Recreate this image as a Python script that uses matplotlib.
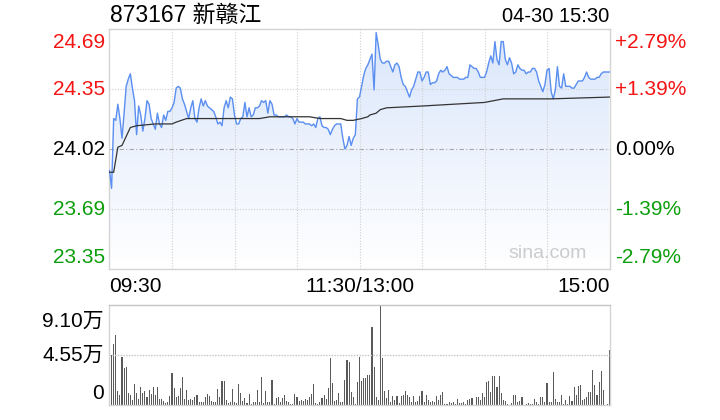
import numpy as np
import matplotlib.pyplot as plt
from matplotlib.colors import LinearSegmentedColormap

plt.rcParams['font.family'] = ['Liberation Sans', 'Noto Sans CJK SC']

TITLE = "873167 新赣江"
STAMP = "04-30 15:30"
PREV_CLOSE = 24.02

# price per minute, 09:30-11:30 (121 values) and 13:01-15:00 (120 values)
PRICE_AM = [
    23.90, 23.80, 24.19, 24.18, 24.27, 24.19, 24.08, 24.22, 24.37, 24.41,
    24.44, 24.36, 24.29, 24.10, 24.26, 24.21, 24.12, 24.19, 24.29, 24.27,
    24.19, 24.16, 24.13, 24.22, 24.16, 24.14, 24.21, 24.18, 24.23, 24.23,
    24.25, 24.28, 24.36, 24.37, 24.36, 24.30, 24.27, 24.23, 24.19, 24.25,
    24.29, 24.19, 24.17, 24.25, 24.30, 24.26, 24.29, 24.26, 24.25, 24.24,
    24.23, 24.20, 24.16, 24.17, 24.15, 24.25, 24.29, 24.25, 24.31, 24.30,
    24.21, 24.16, 24.16, 24.19, 24.20, 24.28, 24.20, 24.25, 24.20, 24.21,
    24.25, 24.25, 24.26, 24.29, 24.28, 24.29, 24.22, 24.29, 24.27, 24.21,
    24.21, 24.20, 24.20, 24.20, 24.20, 24.21, 24.20, 24.20, 24.19, 24.16,
    24.19, 24.17, 24.17, 24.17, 24.16, 24.16, 24.16, 24.15, 24.16, 24.14,
    24.19, 24.20, 24.15, 24.14, 24.14, 24.13, 24.10, 24.13, 24.15, 24.16,
    24.16, 24.16, 24.08, 24.02, 24.04, 24.09, 24.04, 24.08, 24.10, 24.30,
    24.31,
]
PRICE_PM = [
    24.37, 24.43, 24.47, 24.49, 24.52, 24.55, 24.35, 24.67, 24.60, 24.52,
    24.50, 24.50, 24.51, 24.51, 24.48, 24.45, 24.49, 24.50, 24.48, 24.42,
    24.38, 24.37, 24.34, 24.31, 24.35, 24.37, 24.41, 24.45, 24.45, 24.40,
    24.42, 24.45, 24.45, 24.38, 24.39, 24.39, 24.40, 24.44, 24.46, 24.45,
    24.46, 24.48, 24.44, 24.43, 24.42, 24.42, 24.42, 24.41, 24.41, 24.41,
    24.42, 24.42, 24.49, 24.48, 24.47, 24.47, 24.45, 24.42, 24.42, 24.42,
    24.45, 24.50, 24.54, 24.50, 24.62, 24.52, 24.49, 24.62, 24.62, 24.52,
    24.49, 24.53, 24.50, 24.44, 24.45, 24.49, 24.47, 24.46, 24.46, 24.44,
    24.45, 24.45, 24.47, 24.47, 24.45, 24.40, 24.37, 24.34, 24.38, 24.46,
    24.47, 24.34, 24.30, 24.35, 24.48, 24.37, 24.36, 24.44, 24.37, 24.37,
    24.37, 24.36, 24.36, 24.38, 24.40, 24.40, 24.40, 24.42, 24.45, 24.42,
    24.41, 24.41, 24.41, 24.42, 24.42, 24.44, 24.45, 24.45, 24.45, 24.45,
]

# average price line (minute index, price)
AVG_MIN = [0, 2, 4, 6, 8, 10, 13, 22, 30, 32, 37, 43, 60, 72, 77, 96, 101,
           111, 114, 117, 121, 124, 125, 128, 130, 133, 150, 180, 189, 212, 240]
AVG_PRICE = [23.89, 23.89, 24.03, 24.04, 24.09, 24.14, 24.15, 24.16, 24.16,
             24.17, 24.19, 24.19, 24.19, 24.19, 24.20, 24.20, 24.19, 24.19,
             24.18, 24.18, 24.19, 24.20, 24.21, 24.22, 24.24, 24.25, 24.26,
             24.28, 24.30, 24.30, 24.31]

# volume per minute, in 万 shares
VOL_AM = [
    0.73, 4.55, 5.55, 6.37, 1.27, 0.91, 4.37, 3.37, 3.46, 1.09,
    0.91, 0.46, 1.91, 1.09, 0.55, 1.64, 1.09, 1.27, 0.73, 1.37,
    1.00, 1.64, 0.91, 1.64, 0.55, 0.55, 0.36, 0.18, 0.27, 0.82,
    2.91, 1.55, 0.73, 0.82, 1.55, 2.55, 0.55, 1.37, 0.46, 0.55,
    0.46, 0.73, 0.91, 0.27, 0.27, 0.27, 0.73, 1.00, 0.82, 0.36,
    0.27, 0.27, 1.46, 0.73, 2.18, 2.18, 0.46, 0.18, 0.27, 1.46,
    0.27, 0.18, 1.91, 1.09, 0.36, 0.64, 0.18, 1.00, 0.09, 0.27,
    0.27, 1.37, 0.27, 2.55, 0.18, 1.27, 0.27, 0.27, 2.28, 0.09,
    0.64, 0.73, 0.27, 0.64, 0.91, 0.36, 0.27, 0.09, 0.09, 1.00,
    0.73, 0.36, 0.46, 0.36, 0.55, 0.46, 0.73, 1.00, 1.91, 0.18,
    0.09, 0.27, 0.64, 0.91, 0.55, 1.55, 4.28, 2.00, 0.36, 0.46,
    1.09, 0.27, 0.27, 2.28, 4.10, 3.91, 1.18, 0.73, 0.09, 2.09,
    4.37,
]
VOL_PM = [
    2.18, 2.46, 2.46, 2.73, 2.73, 7.10, 3.46, 0.73, 0.46, 9.10,
    4.28, 1.27, 0.64, 1.37, 0.27, 0.82, 0.46, 0.82, 0.18, 0.82,
    0.91, 1.27, 0.91, 0.73, 0.27, 0.82, 0.27, 0.36, 0.82, 1.27,
    0.27, 0.91, 0.46, 0.27, 0.36, 0.27, 0.82, 0.46, 0.91, 1.18,
    0.09, 0.09, 0.27, 0.18, 0.27, 0.09, 0.55, 0.18, 0.18, 0.27,
    0.09, 0.46, 0.55, 0.64, 0.02, 0.73, 0.73, 0.46, 1.09, 0.73,
    2.09, 2.18, 1.18, 2.64, 2.64, 1.64, 2.64, 1.09, 0.46, 0.36,
    0.09, 0.02, 0.18, 0.91, 0.91, 0.27, 0.36, 0.73, 0.02, 0.09,
    0.18, 0.09, 0.09, 0.55, 0.27, 0.09, 0.73, 0.73, 0.27, 2.00,
    0.27, 0.27, 3.00, 0.55, 0.27, 0.27, 0.91, 0.09, 0.46, 0.09,
    0.82, 0.36, 1.64, 0.91, 1.73, 1.82, 0.46, 0.55, 0.73, 1.18,
    1.18, 3.19, 1.82, 0.91, 2.09, 3.09, 1.37, 0.02, 0.09, 5.01,
]
VOL_MAX = 9.10

PCT_LEVELS = [2.79, 1.39, 0.0, -1.39, -2.79]
PRICE_LABELS = ["24.69", "24.35", "24.02", "23.69", "23.35"]
PCT_LABELS = ["+2.79%", "+1.39%", "0.00%", "-1.39%", "-2.79%"]
LABEL_COLORS = ["#f41414", "#f41414", "#000000", "#0d9e0d", "#0d9e0d"]
TIME_TICKS = [0, 120, 240]
TIME_LABELS = ["09:30", "11:30/13:00", "15:00"]
VOL_LABELS = ["9.10万", "4.55万", "0"]

LINE_BLUE = "#5a8ef0"
BORDER = "#d4d4d4"
GRID = "#cfcfcf"
FS = 15

prices = PRICE_AM + PRICE_PM
minutes = np.arange(len(prices))
volumes = VOL_AM + VOL_PM
ylo = PREV_CLOSE * (1 - PCT_LEVELS[0] / 100)
yhi = PREV_CLOSE * (1 + PCT_LEVELS[0] / 100)

fig = plt.figure(figsize=(7.2, 4.2), dpi=100)
ax = fig.add_axes([109.5 / 720, 1 - 269 / 420, 500 / 720, 240 / 420])
axv = fig.add_axes([109.5 / 720, 1 - 405 / 420, 500 / 720, 100 / 420])

# gradient area under the price line
cmap = LinearSegmentedColormap.from_list("area", ["#ffffff", "#d9e6fb"])
area = ax.fill_between(minutes, prices, ylo, color="none", lw=0)
grad = np.linspace(1, 0, 256).reshape(-1, 1)
im = ax.imshow(grad, aspect="auto", cmap=cmap, origin="upper",
               extent=[0, 240, ylo, yhi], zorder=1)
im.set_clip_path(area.get_paths()[0], transform=ax.transData)

ax.plot(minutes, prices, color=LINE_BLUE, lw=1.0, zorder=4)
ax.plot(AVG_MIN, AVG_PRICE, color="#333333", lw=0.9, zorder=5)

ax.set_xlim(0, 240)
ax.set_ylim(ylo, yhi)
for m in range(30, 240, 30):
    ax.axvline(m, color=GRID, lw=0.8, ls=(0, (1, 1.5)), zorder=2)
for pct in PCT_LEVELS[1:4]:
    y = PREV_CLOSE * (1 + pct / 100)
    if pct == 0:
        ax.axhline(y, color="#a8a8a8", lw=0.8, ls=(0, (4, 2, 1, 2)), zorder=2)
    else:
        ax.axhline(y, color=GRID, lw=0.8, ls=(0, (1, 1.5)), zorder=2)
ax.set_xticks([])
ax.set_yticks([])
for s in ax.spines.values():
    s.set_color(BORDER)
    s.set_linewidth(1)

# price / percent labels
for i, pct in enumerate(PCT_LEVELS):
    y = PREV_CLOSE * (1 + pct / 100)
    if i == 0:
        va, dy = "top", -3
    elif i == len(PCT_LEVELS) - 1:
        va, dy = "bottom", 1.5
    else:
        va, dy = "center", -0.5
    ax.annotate(PRICE_LABELS[i], (0, y), xycoords=("axes fraction", "data"),
                xytext=(-3, dy), textcoords="offset points", ha="right",
                va=va, fontsize=FS, color=LABEL_COLORS[i])
    ax.annotate(PCT_LABELS[i], (1, y), xycoords=("axes fraction", "data"),
                xytext=(4, dy), textcoords="offset points", ha="left",
                va=va, fontsize=FS, color=LABEL_COLORS[i])

for m, lab, ha in zip(TIME_TICKS, TIME_LABELS, ["left", "center", "right"]):
    ax.annotate(lab, (m, 0), xycoords=("data", "axes fraction"),
                xytext=(0, -6), textcoords="offset points", ha=ha, va="top",
                fontsize=FS, color="#000000")

fig.text(110 / 720, 1 - 16 / 420, TITLE, fontsize=16.5, ha="left", va="center")
fig.text(609 / 720, 1 - 16 / 420, STAMP, fontsize=14.5, ha="right", va="center")
ax.text(0.955, 0.065, "sina.com", transform=ax.transAxes, fontsize=14,
        color="#cccccc", ha="right", va="center", zorder=3)

# volume panel
axv.bar(minutes, volumes, width=0.5, color="#5a5a5a", clip_on=False)
axv.set_xlim(0, 240)
axv.set_ylim(0, VOL_MAX)
axv.axhline(VOL_MAX / 2, color="#c4c4c4", lw=1, ls=(0, (1, 1)))
axv.set_xticks([])
axv.set_yticks([])
for k, s in axv.spines.items():
    s.set_color(BORDER)
    s.set_linewidth(1)
axv.spines["top"].set_linestyle((0, (1, 1)))
axv.spines["top"].set_color("#c4c4c4")

for v, lab, va, dy in zip([VOL_MAX, VOL_MAX / 2, 0], VOL_LABELS,
                          ["top", "center", "bottom"], [-5, -0.5, 1.5]):
    axv.annotate(lab, (0, v), xycoords=("axes fraction", "data"),
                 xytext=(-4, dy), textcoords="offset points", ha="right",
                 va=va, fontsize=FS, color="#000000")

fig.savefig("out.png", dpi=100)
